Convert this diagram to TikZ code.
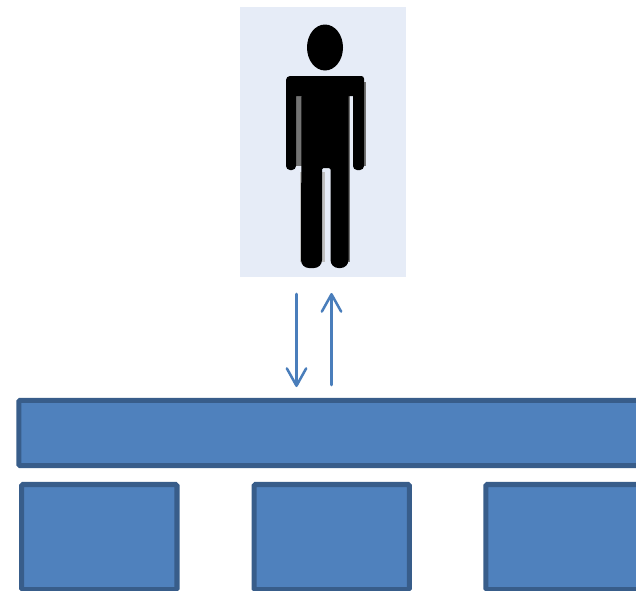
\documentclass[tikz,border=0pt]{standalone}
\usetikzlibrary{arrows.meta}
\definecolor{panelblue}{HTML}{E6ECF7}
\definecolor{boxblue}{HTML}{4F81BD}
\definecolor{boxedge}{HTML}{385D8A}
\definecolor{arrowblue}{HTML}{4A7EBB}
\tikzset{%
  >={Straight Barb[width=14.5pt,length=13pt,round]},
  % Specifications for style of nodes:
      base/.style = {rectangle, rounded corners=1pt, draw=boxedge, fill=boxblue,
                     line width=3.8pt, inner sep=0pt},
       bar/.style = {base, minimum width=481pt, minimum height=49pt},
    module/.style = {base, minimum width=116.5pt, minimum height=78.8pt},
     panel/.style = {rectangle, fill=panelblue, inner sep=0pt,
                     minimum width=124.5pt, minimum height=202.5pt},
      link/.style = {->, draw=arrowblue, line width=1.9pt, line cap=round},
    figure/.style = {fill=black},
    fringe/.style = {fill=black!55},
 softfringe/.style = {fill=black!25},
}
\begin{document}
\begin{tikzpicture}[x=0.75pt, y=-0.75pt]
  \clip (0,0) rectangle (636,590);

  \node(panel)   [panel]  at (323,142)     {};
  \node(bus)     [bar]    at (339.5,433)   {};
  \node(moduleA) [module] at (99.3,537)    {};
  \node(moduleB) [module] at (331.7,537)   {};
  \node(moduleC) [module] at (563.5,537)   {};

  % grey edges of the person
  \fill[fringe] (296,92) rectangle (303,166);
  \fill[fringe] (346,92) rectangle (350,262);
  \fill[fringe] (360,82) rectangle (365.5,166);
  \fill[softfringe] (322,172) rectangle (324.5,262);
  \fill[softfringe] (299.5,172) rectangle (303,262);

  % person on the panel
  \fill[figure] (325,47.5) ellipse [x radius=18, y radius=23];
  \fill[figure]
       [rounded corners=2pt] (286,76) -- (364,76)
       [rounded corners=3pt] -- (364,170) -- (353,170)
       [sharp corners] -- (353,96) -- (348.5,96)
       [rounded corners=6pt] -- (348.5,268) -- (330.5,268)
       [rounded corners=1pt] -- (330.5,168) -- (322,168)
       [rounded corners=6pt] -- (322,268) -- (301,268)
       [sharp corners] -- (301.5,96) -- (296,96)
       [rounded corners=3pt] -- (296,170) -- (286,170) -- cycle;

  % Specification of lines between nodes specified above
  \coordinate (downStart) at (296.5,294);
  \coordinate (downEnd)   at (296.5,387);
  \coordinate (upStart)   at (331.5,385);
  \coordinate (upEnd)     at (331.5,293);
  \draw[link] (downStart) -- (downEnd);
  \draw[link] (upStart) -- (upEnd);
\end{tikzpicture}
\end{document}
